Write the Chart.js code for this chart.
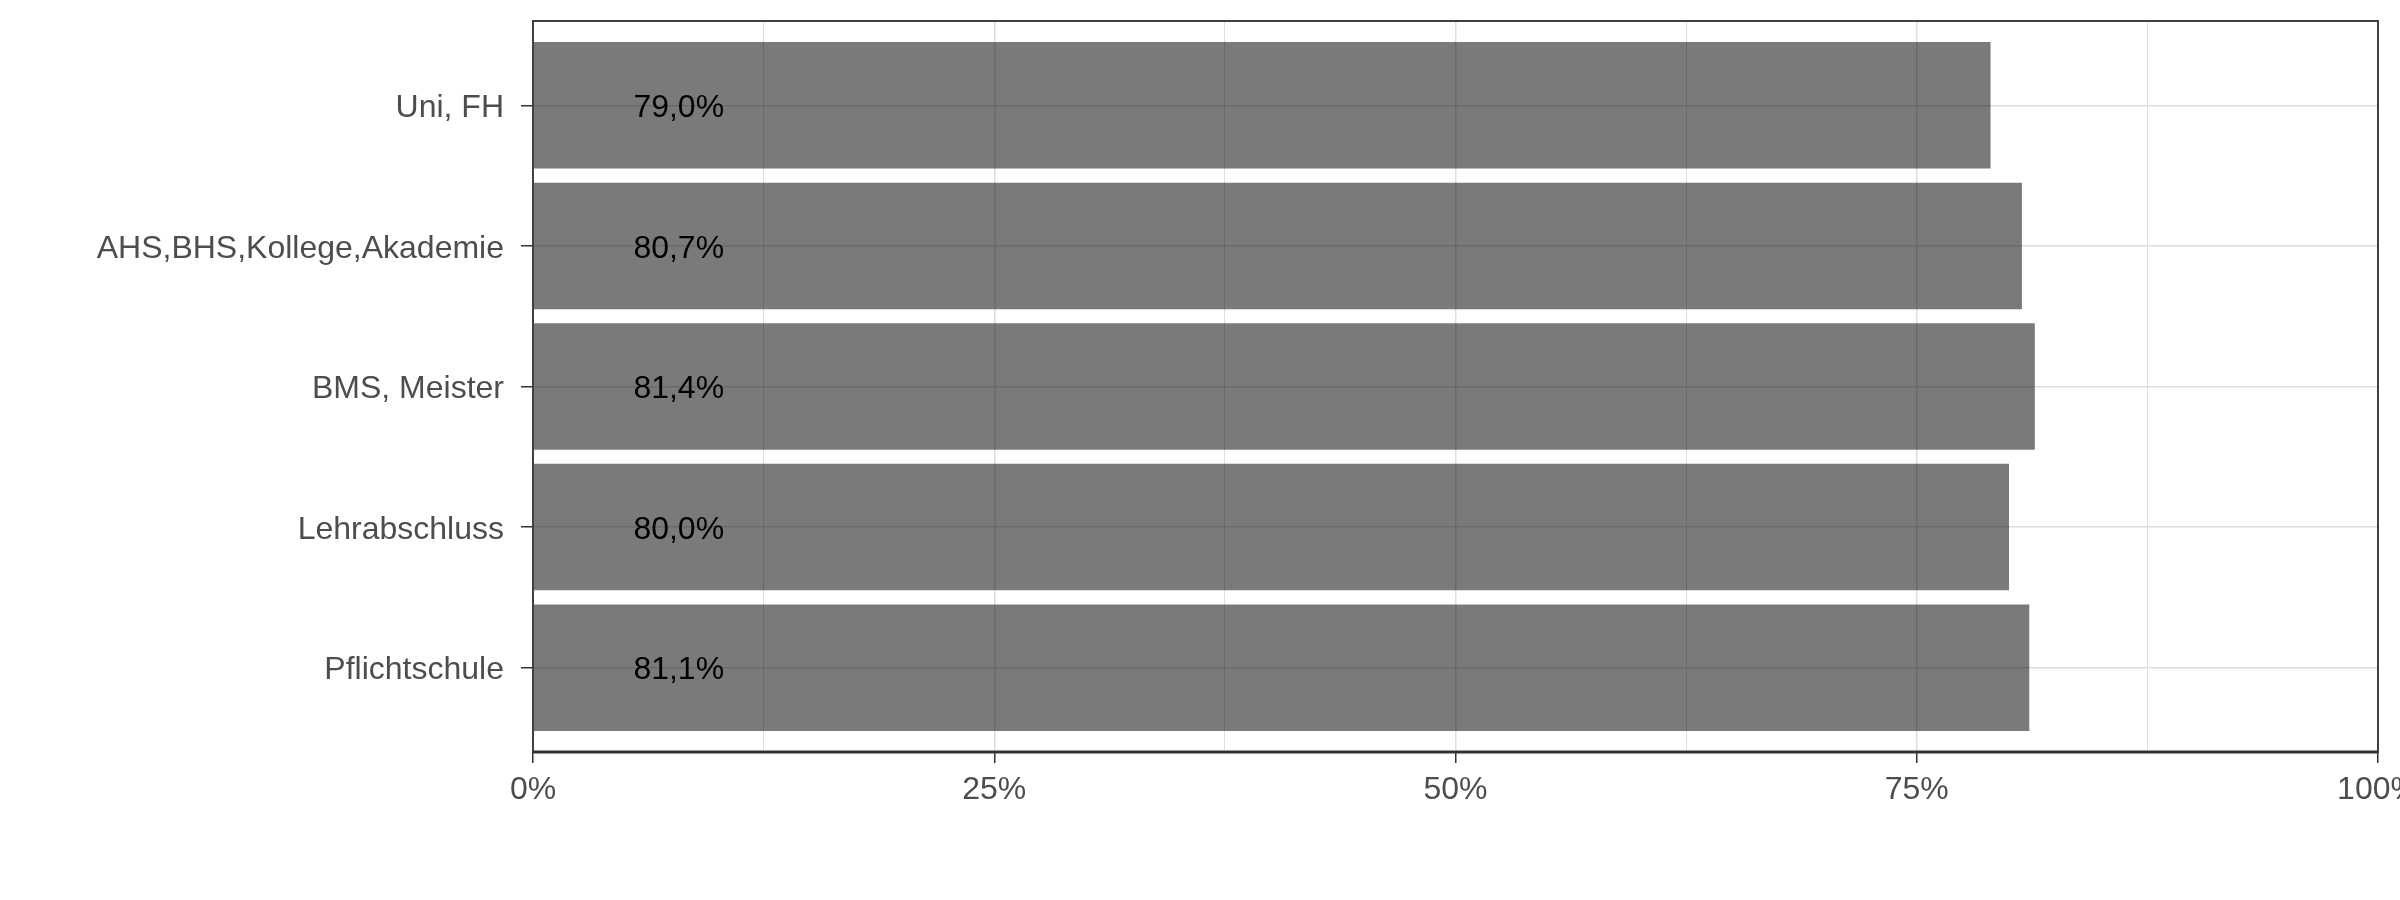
<!DOCTYPE html>
<html>
<head>
<meta charset="utf-8">
<title>Bildung</title>
<script src="https://cdn.jsdelivr.net/npm/chart.js@4.4.0/dist/chart.umd.min.js"></script>
<style>
  html, body { margin: 0; padding: 0; background: #fff; }
  #wrap { width: 2400px; height: 900px; }
</style>
</head>
<body>
<div id="wrap"><canvas id="chart" width="2400" height="900"></canvas></div>
<script>
// categories top to bottom
const categories = ['Uni, FH', 'AHS,BHS,Kollege,Akademie', 'BMS, Meister', 'Lehrabschluss', 'Pflichtschule'];
// share in percent
const shares = [79.0, 80.7, 81.4, 80.0, 81.1];
const xTicks = [0, 25, 50, 75, 100];

const FONT = "'Liberation Sans', Arial, sans-serif";
const AXIS_TEXT = '#4d4d4d';
const BORDER = '#404040';
const GRID = '#dedede';
const LABEL_AT = 7.9; // x value where the value labels sit
const TEXT_SHIFT = 3;  // text sits a touch below the row centre

const fmt = v => v.toFixed(1).replace('.', ',') + '%';

// value labels and panel border
const overlay = {
  id: 'overlay',
  afterDatasetsDraw(chart) {
    const { ctx, scales: { x, y } } = chart;
    ctx.save();
    ctx.font = `32px ${FONT}`;
    ctx.fillStyle = '#000';
    ctx.textAlign = 'center';
    ctx.textBaseline = 'middle';
    shares.forEach((v, i) => {
      ctx.fillText(fmt(v), x.getPixelForValue(LABEL_AT), y.getPixelForValue(i) + TEXT_SHIFT);
    });
    ctx.restore();
  },
  afterDraw(chart) {
    const { ctx, chartArea: a } = chart;
    ctx.save();
    ctx.strokeStyle = BORDER;
    ctx.lineWidth = 2;
    ctx.strokeRect(a.left, a.top, a.right - a.left, a.bottom - a.top);
    ctx.strokeStyle = '#333';
    ctx.lineWidth = 3;
    ctx.beginPath();
    ctx.moveTo(a.left, a.bottom);
    ctx.lineTo(a.right, a.bottom);
    ctx.stroke();
    ctx.restore();
  }
};

new Chart(document.getElementById('chart'), {
  type: 'bar',
  data: {
    datasets: [{
      data: shares.map((v, i) => ({ x: v, y: i })),
      backgroundColor: 'rgba(0,0,0,0.52)',
      borderWidth: 0,
      barPercentage: 0.9,
      categoryPercentage: 1.0
    }]
  },
  options: {
    indexAxis: 'y',
    responsive: false,
    devicePixelRatio: 1,
    animation: false,
    layout: { padding: { top: 21, right: 22, bottom: 0, left: 0 } },
    plugins: { legend: { display: false }, tooltip: { enabled: false } },
    scales: {
      x: {
        type: 'linear',
        position: 'bottom',
        min: 0,
        max: 100,
        afterBuildTicks: s => {
          const t = [];
          for (let k = 0; k < xTicks.length; k++) {
            t.push({ value: xTicks[k] });
            if (k < xTicks.length - 1) t.push({ value: (xTicks[k] + xTicks[k + 1]) / 2 });
          }
          s.ticks = t;
        },
        afterFit: s => { s.height = 148; s.paddingLeft = 0; s.paddingRight = 0; },
        border: { display: false },
        grid: {
          color: GRID,
          lineWidth: c => (c.tick && c.tick.value % 25 === 0 ? 1.5 : 1),
          tickColor: c => (c.tick && c.tick.value % 25 === 0 ? '#333' : 'rgba(0,0,0,0)'),
          tickLength: 11,
          tickWidth: 1.5
        },
        ticks: {
          autoSkip: false,
          maxRotation: 0,
          padding: 8,
          color: AXIS_TEXT,
          font: { family: FONT, size: 32 },
          callback: v => (v % 25 === 0 ? v + '%' : '')
        }
      },
      y: {
        type: 'linear',
        reverse: true,
        offset: false,
        min: -0.6,
        max: categories.length - 0.4,
        afterBuildTicks: s => { s.ticks = categories.map((c, i) => ({ value: i })); },
        afterFit: s => { s.width = 533; s.paddingTop = 0; s.paddingBottom = 0; },
        border: { display: false },
        grid: {
          offset: false,
          color: GRID,
          lineWidth: 1.5,
          tickColor: '#333',
          tickLength: 12,
          tickWidth: 1.5
        },
        ticks: {
          autoSkip: false,
          padding: 17,
          labelOffset: TEXT_SHIFT,
          color: AXIS_TEXT,
          font: { family: FONT, size: 32 },
          callback: v => categories[v]
        }
      }
    }
  },
  plugins: [overlay]
});
</script>
</body>
</html>
